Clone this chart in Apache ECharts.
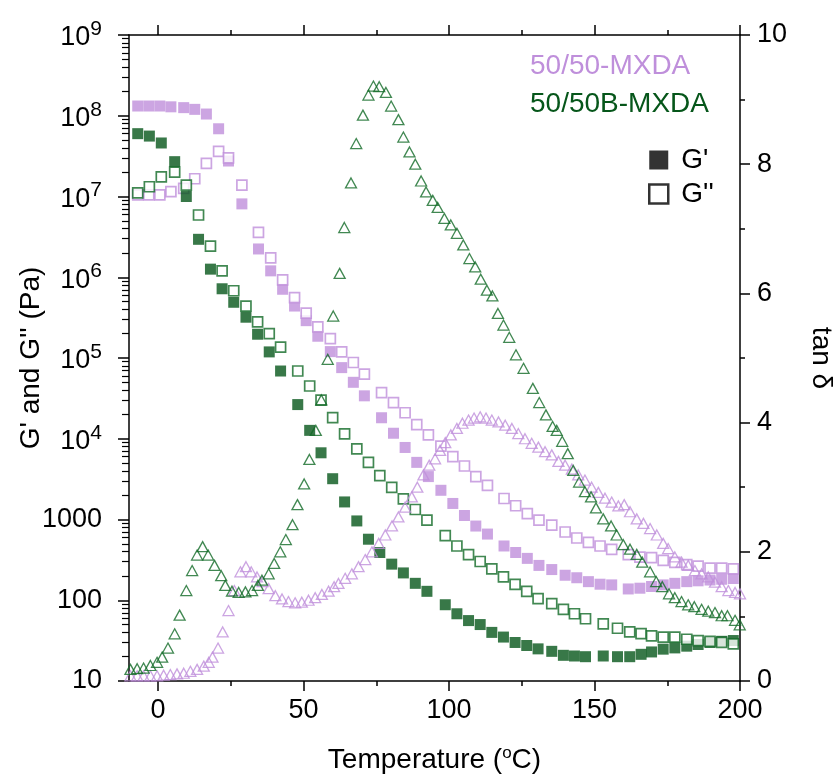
<!DOCTYPE html>
<html><head><meta charset="utf-8">
<script src="https://cdn.jsdelivr.net/npm/echarts@6/dist/echarts.min.js"></script>
<style>html,body{margin:0;padding:0;background:#fff}#c{width:838px;height:780px}</style>
</head><body><div id="c"></div>
<script>
// ---- data ----
const purpleTemp = [-7.0,-3.2,0.6,4.4,8.8,12.6,16.6,20.8,24.2,28.8,34.5,38.7,42.8,46.9,50.9,54.9,59.2,63.1,67.1,70.9,76.8,80.9,84.9,88.9,92.9,97.2,101.3,105.3,109.2,113.2,118.9,122.9,126.9,130.9,135.3,139.9,143.9,147.9,151.9,155.9,161.6,165.6,169.6,173.6,177.6,181.7,185.6,189.7,193.7,197.7];
const purpleGp = [1.32e8,1.32e8,1.32e8,1.29e8,1.26e8,1.2e8,1.05e8,6.9e7,2.75e7,8.1e6,2.24e6,1.2e6,7.1e5,4.4e5,2.9e5,1.86e5,1.2e5,7.6e4,5.0e4,3.4e4,1.82e4,1.17e4,7.8e3,5.1e3,3.4e3,2.3e3,1.58e3,1.12e3,830,660,470,390,330,270,240,204,190,170,158,155,138,141,148,155,162,170,174,178,182,186];
const purpleGpp = [1.05e7,1.05e7,1.05e7,1.15e7,1.26e7,1.66e7,2.57e7,3.63e7,3.0e7,1.38e7,3.6e6,1.74e6,9.3e5,5.6e5,3.6e5,2.43e5,1.74e5,1.19e5,8.8e4,6.3e4,3.73e4,2.8e4,2.1e4,1.5e4,1.12e4,8.1e3,6.0e3,4.6e3,3.4e3,2.65e3,1.82e3,1.48e3,1.18e3,980,850,700,590,520,470,427,367,343,337,312,295,276,265,250,250,245];

const greenTemp = [-7.0,-3.0,1.1,5.7,9.7,13.9,18.0,22.0,26.0,30.2,34.2,38.2,42.1,48.0,52.1,56.0,60.0,64.1,68.3,72.3,76.2,80.3,84.3,88.4,92.4,98.7,102.7,106.7,110.7,114.7,118.7,122.7,126.7,130.6,135.3,139.3,143.1,146.9,153.0,157.9,162.1,166.0,169.6,173.6,177.6,181.7,185.6,189.7,193.7,197.7];
const greenGp = [6.0e7,5.6e7,4.6e7,2.7e7,1.0e7,2.95e6,1.26e6,7.2e5,4.9e5,3.2e5,1.97e5,1.19e5,6.9e4,2.65e4,1.27e4,6.7e3,3.2e3,1.65e3,960,570,390,280,218,162,129,88,68,56,50,40,35,30,27.5,25,23.3,20.8,20.4,20,20.4,20,20,21.4,22.9,24.8,25.7,27,28.3,30,31,31.7];
const greenGpp = [1.11e7,1.32e7,1.75e7,2.0e7,1.38e7,5.9e6,2.43e6,1.2e6,6.8e5,4.4e5,2.8e5,2.0e5,1.36e5,6.9e4,4.5e4,3.0e4,1.83e4,1.15e4,7.5e3,5.1e3,3.5e3,2.5e3,1.8e3,1.33e3,980,630,470,367,302,245,195,157,129,105,91,77,68,59,51,45,40.5,38.7,36.3,35,35,32.9,31.7,31,30,28.8];

const purpleTanTemp = [-9.5,-7.2,-5.0,-2.65,-0.35,1.9,4.2,6.5,8.8,11.1,13.4,15.7,17.4,18.7,20.6,22.2,24.2,26.2,28.3,30.2,32.0,34.0,35.9,38.0,40.3,42.6,44.8,47.1,49.4,51.7,54.0,56.3,58.6,60.5,62.0,64.3,66.6,68.9,71.2,73.5,75.8,78.1,80.4,82.6,84.9,87.2,89.1,91.2,93.2,95.2,96.9,98.7,100.6,102.7,104.6,106.7,108.6,110.7,112.7,114.7,117.0,119.3,121.6,123.8,126.1,128.4,130.7,133.0,135.3,137.6,139.9,142.2,144.4,146.7,149.0,151.3,153.6,155.9,158.2,160.2,162.2,164.5,166.8,169.1,171.4,173.6,175.3,177.6,179.9,182.2,184.5,186.8,189.1,191.4,193.7,196.0,198.3,200.0];
const purpleTan = [0.08,0.08,0.08,0.08,0.08,0.09,0.1,0.11,0.12,0.15,0.18,0.23,0.29,0.37,0.51,0.76,1.09,1.40,1.69,1.77,1.69,1.61,1.54,1.43,1.32,1.27,1.23,1.21,1.22,1.25,1.29,1.34,1.39,1.46,1.51,1.59,1.66,1.77,1.88,2.0,2.13,2.26,2.40,2.54,2.69,2.85,3.0,3.19,3.34,3.44,3.57,3.69,3.81,3.91,3.99,4.04,4.07,4.09,4.07,4.04,4.01,3.96,3.91,3.83,3.75,3.68,3.62,3.55,3.50,3.40,3.34,3.28,3.19,3.11,3.0,2.92,2.83,2.77,2.71,2.73,2.62,2.51,2.44,2.36,2.26,2.13,2.05,1.92,1.84,1.79,1.71,1.66,1.61,1.53,1.46,1.40,1.37,1.35];

const greenTanTemp = [-9.5,-7.2,-5.0,-2.65,-0.35,1.4,3.4,5.7,7.4,9.7,11.7,13.4,15.3,17.2,19.4,21.7,23.1,25.4,27.7,30.0,32.3,34.3,35.7,38.0,39.9,42.0,43.9,46.2,47.9,50.2,52.0,54.2,56.1,58.3,60.2,62.4,64.0,66.3,68.1,70.4,72.3,74.0,76.0,78.3,80.1,82.6,84.3,86.4,88.4,90.4,92.1,94.4,96.1,98.4,100.6,102.7,104.9,107.0,109.0,110.9,113.0,114.9,116.8,118.7,120.7,123.0,125.6,128.8,131.0,133.3,135.6,137.0,138.9,140.8,142.7,144.7,146.7,148.8,150.5,153.0,155.7,157.6,159.9,162.2,164.5,166.4,169.1,171.2,173.3,175.6,177.6,179.9,182.2,184.3,186.8,189.1,191.4,193.7,195.7,198.3,199.9];
const greenTan = [0.18,0.19,0.20,0.24,0.29,0.37,0.51,0.73,1.02,1.40,1.71,1.95,2.08,1.95,1.79,1.63,1.48,1.39,1.37,1.38,1.40,1.48,1.56,1.66,1.82,2.0,2.19,2.42,2.73,3.05,3.43,3.88,4.35,4.98,5.65,6.31,7.02,7.71,8.32,8.76,9.07,9.21,9.20,9.11,8.90,8.69,8.42,8.19,8.0,7.74,7.57,7.44,7.33,7.16,7.06,6.93,6.75,6.54,6.41,6.22,6.05,5.96,5.69,5.51,5.32,5.05,4.84,4.53,4.31,4.12,3.94,3.88,3.71,3.52,3.26,3.08,2.93,2.85,2.68,2.51,2.40,2.26,2.11,2.04,1.96,1.84,1.69,1.54,1.46,1.35,1.29,1.23,1.18,1.15,1.11,1.08,1.06,1.01,1.01,0.94,0.87];

const xTicks = [0,50,100,150,200];
const xMinorTicks = [25,75,125,175];
const logMajor = [10,100,1000,1e4,1e5,1e6,1e7,1e8,1e9];
const groupNames = ['50/50-MXDA','50/50B-MXDA'];

// ---- chart ----
const PURPLE = '#bf8fdb';
const GREEN = '#06561a';
const GREEN_OPEN = '#126a27';
const FONT = "'Liberation Sans', Arial, sans-serif";
const zip = (a,b) => a.map((t,i)=>[t,b[i]]);

const logMinor = [];
for (let e = 1; e < 9; e++) for (let m = 2; m <= 9; m++) logMinor.push(m * Math.pow(10, e));

const chart = echarts.init(document.getElementById('c'), null, {renderer:'canvas'});
const axisLineStyle = {color:'#000', width:1.5};

const xBase = {
  type:'value', min:-10, max:200, gridIndex:0,
  splitLine:{show:false}, axisLine:{show:true, onZero:false, lineStyle:axisLineStyle}
};

chart.setOption({
  animation:false,
  backgroundColor:'#fff',
  textStyle:{fontFamily:FONT},
  grid:{left:129, right:98, top:35, bottom:99, containLabel:false, outerBoundsMode:'none'},
  xAxis:[
    Object.assign({}, xBase, {
      position:'bottom',
      name:'Temperature ({s|o}C)', nameLocation:'middle', nameGap:64, nameMoveOverlap:false,
      nameTextStyle:{fontSize:28, color:'#000', fontFamily:FONT,
        rich:{s:{fontSize:17, fontFamily:FONT, color:'#000', verticalAlign:'bottom', padding:[0,0,14,0]}}},
      axisTick:{show:true, inside:false, length:10, lineStyle:axisLineStyle, customValues:xTicks},
      axisLabel:{show:true, fontSize:27, color:'#000', margin:16, fontFamily:FONT, customValues:xTicks}
    }),
    Object.assign({}, xBase, {
      position:'bottom', axisLine:{show:false, onZero:false},
      axisTick:{show:true, inside:false, length:5, lineStyle:axisLineStyle, customValues:xMinorTicks},
      axisLabel:{show:false}
    }),
    Object.assign({}, xBase, {
      position:'top',
      axisTick:{show:true, inside:false, length:10, lineStyle:axisLineStyle, customValues:xTicks},
      axisLabel:{show:false}
    }),
    Object.assign({}, xBase, {
      position:'top', axisLine:{show:false, onZero:false},
      axisTick:{show:true, inside:false, length:5, lineStyle:axisLineStyle, customValues:xMinorTicks},
      axisLabel:{show:false}
    })
  ],
  yAxis:[
    {
      type:'log', logBase:10, min:10, max:1e9, position:'left',
      splitLine:{show:false},
      axisLine:{show:true, onZero:false, lineStyle:axisLineStyle},
      axisTick:{show:true, inside:false, length:11, lineStyle:axisLineStyle, customValues:logMajor},
      axisLabel:{show:true, margin:27, fontFamily:FONT, color:'#000', customValues:logMajor,
        formatter:function(v){
          const e = Math.round(Math.log10(v));
          if (e >= 4) return '{b|10}{s|' + e + '}';
          return '{b|' + Math.round(Math.pow(10,e)) + '}';
        },
        rich:{
          b:{fontSize:27, fontFamily:FONT, color:'#000', verticalAlign:'bottom'},
          s:{fontSize:21, fontFamily:FONT, color:'#000', verticalAlign:'bottom', padding:[0,0,12,0]}
        }
      },
      name:"G' and G'' (Pa)", nameLocation:'middle', nameGap:84, nameRotate:90, nameMoveOverlap:false,
      nameTextStyle:{fontSize:28, color:'#000', fontFamily:FONT}
    },
    {
      type:'log', logBase:10, min:10, max:1e9, position:'left',
      splitLine:{show:false}, axisLine:{show:false, onZero:false},
      axisTick:{show:true, inside:false, length:7, lineStyle:{color:'#000', width:1.2}, customValues:logMinor},
      axisLabel:{show:false}
    },
    {
      type:'value', min:0, max:10, interval:2, position:'right',
      splitLine:{show:false},
      axisLine:{show:true, onZero:false, lineStyle:axisLineStyle},
      axisTick:{show:true, inside:false, length:10, lineStyle:axisLineStyle},
      minorTick:{show:true, splitNumber:2, length:5, lineStyle:{color:'#000', width:1.5}},
      axisLabel:{show:true, fontSize:27, color:'#000', margin:17, fontFamily:FONT},
      name:'tan δ', nameLocation:'middle', nameGap:67, nameRotate:-90,
      nameTextStyle:{fontSize:28, color:'#000', fontFamily:FONT}
    }
  ],
  legend:{
    show:true, orient:'vertical', left:648, top:146, itemWidth:19, itemHeight:19, itemGap:6,
    selectedMode:false, padding:0,
    textStyle:{fontSize:28, color:'#000', fontFamily:FONT, padding:[0,0,0,8]},
    data:[
      {name:"G'", icon:'rect', itemStyle:{color:'#000', borderWidth:0}},
      {name:"G''", icon:'rect', itemStyle:{color:'#fff', borderColor:'#000', borderWidth:2.5}}
    ]
  },
  graphic:[
    {type:'text', left:530, top:52, style:{text:groupNames[0], fill:PURPLE, font:'28px ' + FONT}},
    {type:'text', left:530, top:90, style:{text:groupNames[1], fill:GREEN, font:'28px ' + FONT}}
  ],
  series:[
    {name:"G'", type:'scatter', xAxisIndex:0, yAxisIndex:0, symbol:'rect', symbolSize:11,
      itemStyle:{color:PURPLE}, data:zip(purpleTemp, purpleGp), silent:true},
    {name:"G''", type:'scatter', xAxisIndex:0, yAxisIndex:0, symbol:'rect', symbolSize:10,
      itemStyle:{color:'#fff', borderColor:PURPLE, borderWidth:1.7}, data:zip(purpleTemp, purpleGpp), silent:true},
    {name:"G'", type:'scatter', xAxisIndex:0, yAxisIndex:0, symbol:'rect', symbolSize:11,
      itemStyle:{color:GREEN}, data:zip(greenTemp, greenGp), silent:true},
    {name:"G''", type:'scatter', xAxisIndex:0, yAxisIndex:0, symbol:'rect', symbolSize:10,
      itemStyle:{color:'#fff', borderColor:GREEN_OPEN, borderWidth:1.7}, data:zip(greenTemp, greenGpp), silent:true},
    {name:'tanP', type:'scatter', xAxisIndex:0, yAxisIndex:2, symbol:'triangle', symbolSize:[11,10],
      itemStyle:{color:'rgba(0,0,0,0)', borderColor:PURPLE, borderWidth:1.3}, data:zip(purpleTanTemp, purpleTan), silent:true},
    {name:'tanG', type:'scatter', xAxisIndex:0, yAxisIndex:2, symbol:'triangle', symbolSize:[11,10],
      itemStyle:{color:'rgba(0,0,0,0)', borderColor:GREEN_OPEN, borderWidth:1.3}, data:zip(greenTanTemp, greenTan), silent:true}
  ]
});
</script>
</body></html>
